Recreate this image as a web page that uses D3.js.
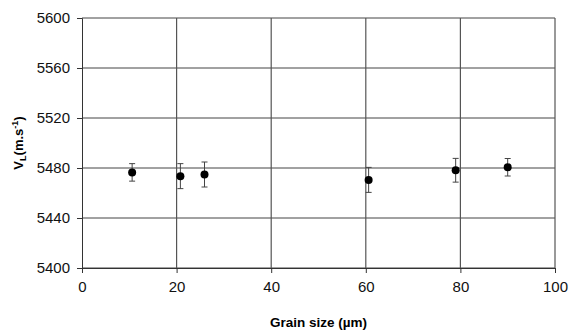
<!DOCTYPE html>
<html>
<head>
<meta charset="utf-8">
<script src="https://cdn.jsdelivr.net/npm/d3@7"></script>
<style>
  body { margin: 0; background: #fff; }
  text { font-family: "Liberation Sans", Arial, sans-serif; }
</style>
</head>
<body>
<div id="chart"></div>
<script>
// grain size (um), velocity VL (m/s) and error
const grainSize = [10.6, 20.8, 25.9, 60.6, 79.0, 90.0];
const velocity  = [5476.5, 5473.5, 5474.8, 5470.5, 5478.2, 5480.6];
const errBar    = [7, 10, 10, 10, 9.5, 7];

const xTicks = [0, 20, 40, 60, 80, 100];
const yTicks = [5400, 5440, 5480, 5520, 5560, 5600];

const width = 570, height = 331;
const margin = { left: 82, right: 15, top: 18, bottom: 63 };

const svg = d3.select('#chart').append('svg')
    .attr('width', width)
    .attr('height', height);

const x = d3.scaleLinear().domain([0, 100]).range([margin.left, width - margin.right]);
const y = d3.scaleLinear().domain([5400, 5600]).range([height - margin.bottom, margin.top]);

// grid lines
const grid = svg.append('g').attr('class', 'grid');
grid.selectAll('line.h')
    .data(yTicks)
    .enter()
    .append('line')
    .attr('x1', x(0)).attr('x2', x(100))
    .attr('y1', d => y(d)).attr('y2', d => y(d))
    .style('stroke', '#444')
    .style('stroke-width', 1);

grid.selectAll('line.v')
    .data(xTicks.slice(1))
    .enter()
    .append('line')
    .attr('x1', d => x(d)).attr('x2', d => x(d))
    .attr('y1', y(5600)).attr('y2', y(5400))
    .style('stroke', '#555')
    .style('stroke-width', 1.2);

// axes
const xAxis = svg.append('g')
    .attr('transform', `translate(0,${y(5400)})`)
    .call(d3.axisBottom(x).tickValues(xTicks).tickSize(5).tickPadding(8));

const yAxis = svg.append('g')
    .attr('transform', `translate(${x(0)},0)`)
    .call(d3.axisLeft(y).tickValues(yTicks).tickSize(5).tickPadding(7).tickFormat(d3.format('d')));

[xAxis, yAxis].forEach(a => {
    a.select('.domain').style('stroke', '#333');
    a.selectAll('.tick line').style('stroke', '#333');
    a.selectAll('.tick text')
        .style('font-size', '15px')
        .style('fill', '#111');
});

// error bars
const pts = grainSize.map((g, i) => ({ g: g, v: velocity[i], e: errBar[i] }));
const eb = svg.append('g').attr('class', 'errbars');
eb.selectAll('line.stem')
    .data(pts)
    .enter()
    .append('line')
    .attr('x1', d => x(d.g)).attr('x2', d => x(d.g))
    .attr('y1', d => y(d.v + d.e)).attr('y2', d => y(d.v - d.e))
    .style('stroke', '#444');
['top', 'bot'].forEach(k => {
    eb.selectAll('line.' + k)
        .data(pts)
        .enter()
        .append('line')
        .attr('x1', d => x(d.g) - 3).attr('x2', d => x(d.g) + 3)
        .attr('y1', d => y(k === 'top' ? d.v + d.e : d.v - d.e))
        .attr('y2', d => y(k === 'top' ? d.v + d.e : d.v - d.e))
        .style('stroke', '#444');
});

// points
svg.append('g').selectAll('circle')
    .data(pts)
    .enter()
    .append('circle')
    .attr('cx', d => x(d.g))
    .attr('cy', d => y(d.v))
    .attr('r', 4)
    .style('fill', '#000');

// axis titles
svg.append('text')
    .attr('x', (x(0) + x(100)) / 2)
    .attr('y', 327)
    .attr('text-anchor', 'middle')
    .style('font-size', '13.5px')
    .style('font-weight', 'bold')
    .text('Grain size (µm)');

const yl = svg.append('text')
    .attr('transform', `translate(23,${(y(5400) + y(5600)) / 2}) rotate(-90)`)
    .attr('text-anchor', 'middle')
    .style('font-size', '13px')
    .style('font-weight', 'bold');
yl.append('tspan').text('V');
yl.append('tspan').attr('dy', 3).style('font-size', '9px').text('L');
yl.append('tspan').attr('dy', -3).text('(m.s');
yl.append('tspan').attr('dy', -5).style('font-size', '9px').text('-1');
yl.append('tspan').attr('dy', 5).text(')');
</script>
</body>
</html>
